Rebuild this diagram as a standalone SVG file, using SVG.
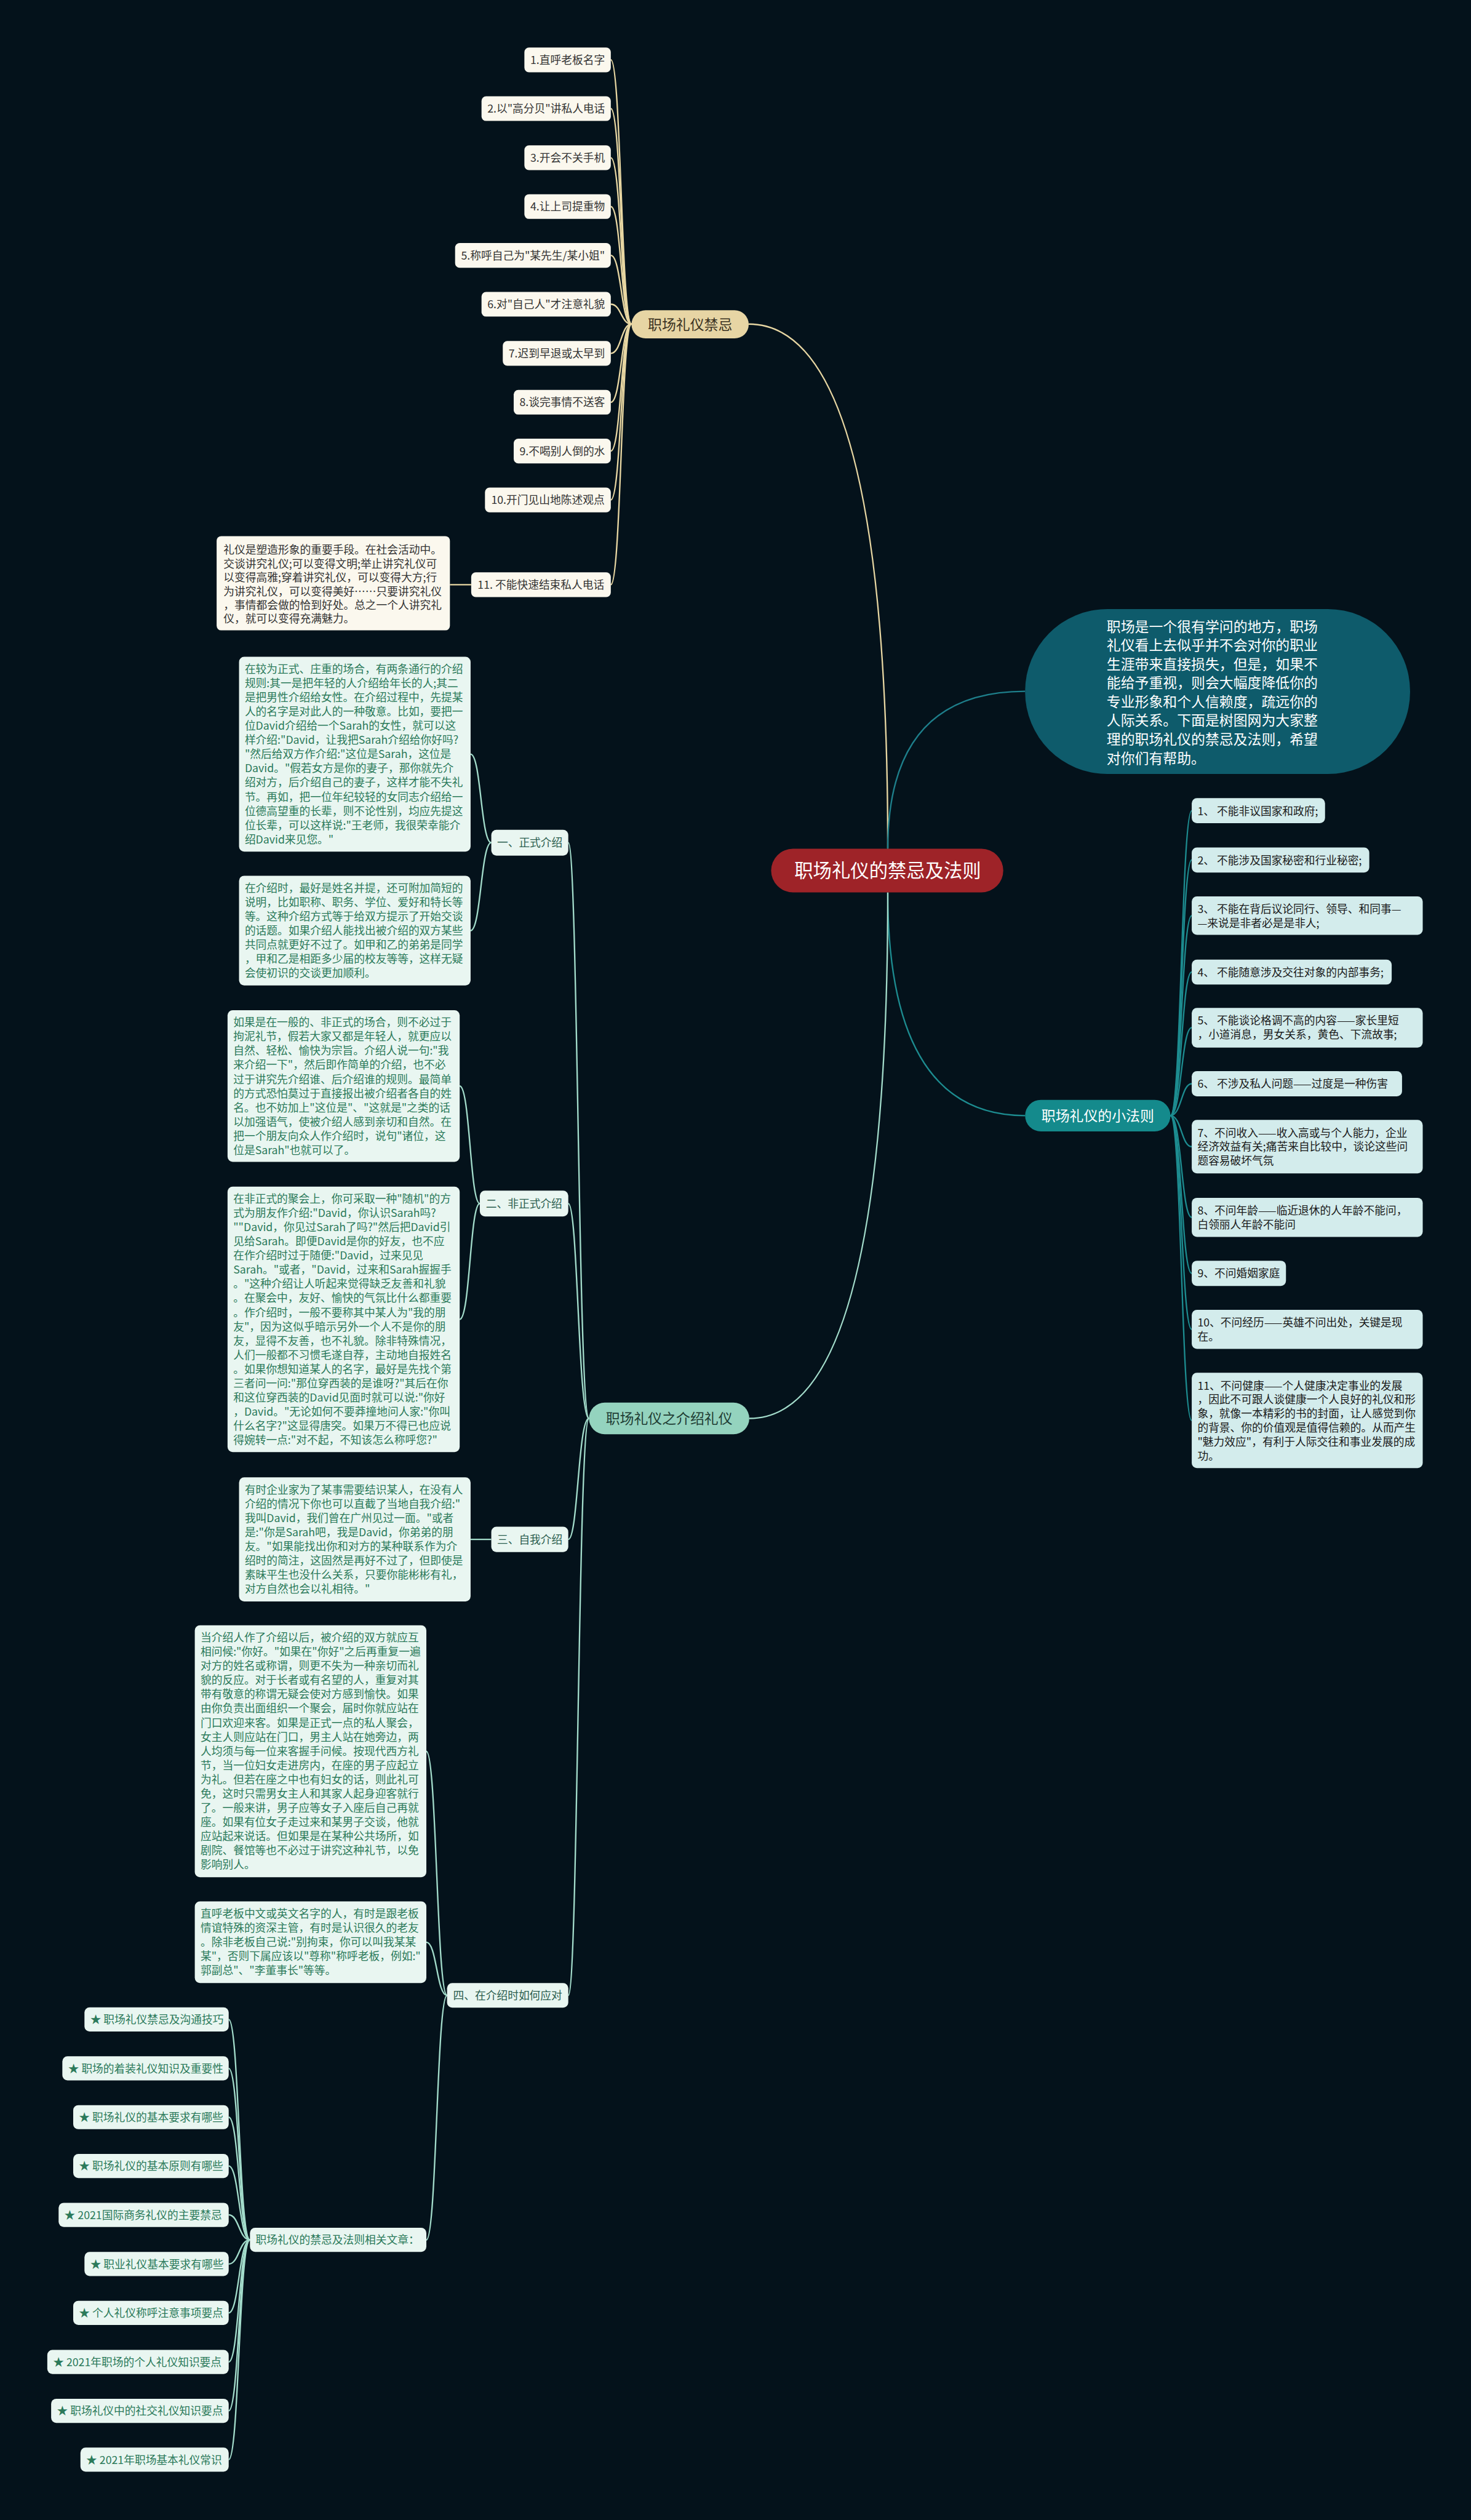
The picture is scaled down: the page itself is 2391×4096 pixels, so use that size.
<svg xmlns="http://www.w3.org/2000/svg" width="2391" height="4096" viewBox="0 0 2391 4096">
<style>
text{font-family:"Noto Sans CJK SC","Microsoft YaHei","Liberation Sans",sans-serif;}
.bg{fill:#04121b;}
.cg{fill:none;stroke:#e8d7a3;stroke-width:2.5;}
.ct{fill:none;stroke:#1d8c90;stroke-width:2.5;}
.cb{fill:none;stroke:#1e7f8b;stroke-width:2.5;}
.cm{fill:none;stroke:#a3dccb;stroke-width:2.5;}
.gi{fill:#fbf8ee;}
.gt{font-size:19px;fill:#333333;text-anchor:middle;}
.ti{fill:#d3ecec;}
.tt{font-size:19px;fill:#1a1a1a;}
.mb{fill:#e9f6f1;}
.mt{font-size:19px;fill:#2b7a5a;}
.ml{font-size:19px;fill:#2c5e4f;text-anchor:middle;}
</style>
<rect class="bg" x="0" y="0" width="2391" height="4096"/>
<g transform="scale(0.93398)">
<g id="connectors">
<path class="cg" d="M1545 1477 Q1545 564 1303 564"/>
<path class="cb" d="M1545 1477 Q1545 1203 1784 1203"/>
<path class="ct" d="M1545 1553 Q1545 1941.5 1784 1941.5"/>
<path class="cm" d="M1545 1553 Q1545 2468.5 1304 2468.5"/>
<path class="cg" d="M1063 104 C1081 104 1081 564 1099 564"/>
<path class="cg" d="M1063 189 C1081 189 1081 564 1099 564"/>
<path class="cg" d="M1063 274.5 C1081 274.5 1081 564 1099 564"/>
<path class="cg" d="M1063 359.5 C1081 359.5 1081 564 1099 564"/>
<path class="cg" d="M1063 444.5 C1081 444.5 1081 564 1099 564"/>
<path class="cg" d="M1063 529.5 C1081 529.5 1081 564 1099 564"/>
<path class="cg" d="M1063 615 C1081 615 1081 564 1099 564"/>
<path class="cg" d="M1063 700 C1081 700 1081 564 1099 564"/>
<path class="cg" d="M1063 785 C1081 785 1081 564 1099 564"/>
<path class="cg" d="M1063 870 C1081 870 1081 564 1099 564"/>
<path class="cg" d="M1063 1017.5 C1081 1017.5 1081 564 1099 564"/>
<path class="cg" d="M820 1017.5 L783 1017.5"/>
<path class="ct" d="M2037 1941.5 C2056 1941.5 2056 1411 2074 1411"/>
<path class="ct" d="M2037 1941.5 C2056 1941.5 2056 1496.5 2074 1496.5"/>
<path class="ct" d="M2037 1941.5 C2056 1941.5 2056 1593.5 2074 1593.5"/>
<path class="ct" d="M2037 1941.5 C2056 1941.5 2056 1691.5 2074 1691.5"/>
<path class="ct" d="M2037 1941.5 C2056 1941.5 2056 1788.5 2074 1788.5"/>
<path class="ct" d="M2037 1941.5 C2056 1941.5 2056 1886 2074 1886"/>
<path class="ct" d="M2037 1941.5 C2056 1941.5 2056 1995.5 2074 1995.5"/>
<path class="ct" d="M2037 1941.5 C2056 1941.5 2056 2118.5 2074 2118.5"/>
<path class="ct" d="M2037 1941.5 C2056 1941.5 2056 2216 2074 2216"/>
<path class="ct" d="M2037 1941.5 C2056 1941.5 2056 2313.5 2074 2313.5"/>
<path class="ct" d="M2037 1941.5 C2056 1941.5 2056 2472 2074 2472"/>
<path class="cm" d="M1025 2468.5 C1006 2468.5 1006 1466.5 989 1466.5"/>
<path class="cm" d="M1025 2468.5 C1006 2468.5 1006 2094.5 989 2094.5"/>
<path class="cm" d="M1025 2468.5 C1006 2468.5 1006 2679 989 2679"/>
<path class="cm" d="M1025 2468.5 C1006 2468.5 1006 3472.5 989 3472.5"/>
<path class="cm" d="M855 1466.5 C837 1466.5 837 1312.5 819 1312.5"/>
<path class="cm" d="M855 1466.5 C837 1466.5 837 1619.5 819 1619.5"/>
<path class="cm" d="M835 2094.5 C818 2094.5 818 1890 800 1890"/>
<path class="cm" d="M835 2094.5 C818 2094.5 818 2296 800 2296"/>
<path class="cm" d="M855 2679 L819 2679"/>
<path class="cm" d="M778 3472.5 C760 3472.5 760 3048 742 3048"/>
<path class="cm" d="M778 3472.5 C760 3472.5 760 3380 742 3380"/>
<path class="cm" d="M778 3472.5 C760 3472.5 760 3898 742 3898"/>
<path class="cm" d="M435 3898 C416 3898 416 3514.5 398 3514.5"/>
<path class="cm" d="M435 3898 C416 3898 416 3599.5 398 3599.5"/>
<path class="cm" d="M435 3898 C416 3898 416 3684.5 398 3684.5"/>
<path class="cm" d="M435 3898 C416 3898 416 3769.5 398 3769.5"/>
<path class="cm" d="M435 3898 C416 3898 416 3854.5 398 3854.5"/>
<path class="cm" d="M435 3898 C416 3898 416 3940 398 3940"/>
<path class="cm" d="M435 3898 C416 3898 416 4025 398 4025"/>
<path class="cm" d="M435 3898 C416 3898 416 4110.5 398 4110.5"/>
<path class="cm" d="M435 3898 C416 3898 416 4195.5 398 4195.5"/>
<path class="cm" d="M435 3898 C416 3898 416 4280.5 398 4280.5"/>
</g>

<g id="root">
<rect x="1342" y="1477" width="404" height="76" rx="38" fill="#9e2328"/>
<text x="1545" y="1527" font-size="32.5" fill="#ffffff" text-anchor="middle">职场礼仪的禁忌及法则</text>
</g>

<g id="intro">
<rect x="1784" y="1060" width="670" height="287" rx="143" fill="#0e5b6b"/>
<text font-size="24.5" fill="#ffffff">
<tspan x="1926" y="1099.3">职场是一个很有学问的地方，职场</tspan>
<tspan x="1926" dy="32.7">礼仪看上去似乎并不会对你的职业</tspan>
<tspan x="1926" dy="32.7">生涯带来直接损失，但是，如果不</tspan>
<tspan x="1926" dy="32.7">能给予重视，则会大幅度降低你的</tspan>
<tspan x="1926" dy="32.7">专业形象和个人信赖度，疏远你的</tspan>
<tspan x="1926" dy="32.7">人际关系。下面是树图网为大家整</tspan>
<tspan x="1926" dy="32.7">理的职场礼仪的禁忌及法则，希望</tspan>
<tspan x="1926" dy="32.7">对你们有帮助。</tspan>
</text>
</g>

<g id="taboo">
<rect x="1099" y="540" width="204" height="49" rx="24.5" fill="#e7d5a4"/>
<text x="1201" y="573.5" font-size="24.5" fill="#3a3222" text-anchor="middle">职场礼仪禁忌</text>
</g>
<g id="taboo-1"><rect class="gi" x="912.6" y="82.7" width="150.4" height="43" rx="8"/><text class="gt" x="987.8" y="111">1.直呼老板名字</text></g>
<g id="taboo-2"><rect class="gi" x="838" y="167.5" width="225" height="43" rx="8"/><text class="gt" x="950.5" y="196">2.以"高分贝"讲私人电话</text></g>
<g id="taboo-3"><rect class="gi" x="912.6" y="253" width="150.4" height="43" rx="8"/><text class="gt" x="987.8" y="281.5">3.开会不关手机</text></g>
<g id="taboo-4"><rect class="gi" x="912.6" y="338" width="150.4" height="43" rx="8"/><text class="gt" x="987.8" y="366.5">4.让上司提重物</text></g>
<g id="taboo-5"><rect class="gi" x="792" y="423" width="271" height="43" rx="8"/><text class="gt" x="927.5" y="451.5">5.称呼自己为"某先生/某小姐"</text></g>
<g id="taboo-6"><rect class="gi" x="838" y="508" width="225" height="43" rx="8"/><text class="gt" x="950.5" y="536.5">6.对"自己人"才注意礼貌</text></g>
<g id="taboo-7"><rect class="gi" x="875" y="593.5" width="188" height="43" rx="8"/><text class="gt" x="969" y="622">7.迟到早退或太早到</text></g>
<g id="taboo-8"><rect class="gi" x="894" y="678.5" width="169" height="43" rx="8"/><text class="gt" x="978.5" y="707">8.谈完事情不送客</text></g>
<g id="taboo-9"><rect class="gi" x="894" y="763.5" width="169" height="43" rx="8"/><text class="gt" x="978.5" y="792">9.不喝别人倒的水</text></g>
<g id="taboo-10"><rect class="gi" x="844" y="848.5" width="219" height="43" rx="8"/><text class="gt" x="953.5" y="877">10.开门见山地陈述观点</text></g>
<g id="taboo-11"><rect class="gi" x="820" y="996" width="243" height="43" rx="8"/><text class="gt" x="941.5" y="1024.5">11. 不能快速结束私人电话</text></g>
<g id="taboo-11-note">
<rect class="gi" x="377" y="933" width="406" height="164" rx="8"/>
<text font-size="19" fill="#333333">
<tspan x="389" y="963.9">礼仪是塑造形象的重要手段。在社会活动中。</tspan>
<tspan x="389" dy="24">交谈讲究礼仪;可以变得文明;举止讲究礼仪可</tspan>
<tspan x="389" dy="24">以变得高雅;穿着讲究礼仪，可以变得大方;行</tspan>
<tspan x="389" dy="24">为讲究礼仪，可以变得美好……只要讲究礼仪</tspan>
<tspan x="389" dy="24">，事情都会做的恰到好处。总之一个人讲究礼</tspan>
<tspan x="389" dy="24">仪，就可以变得充满魅力。</tspan>
</text>
</g>

<g id="rules">
<rect x="1784" y="1914" width="253" height="55" rx="27.5" fill="#148a8c"/>
<text x="1910.5" y="1950.8" font-size="24.5" fill="#ffffff" text-anchor="middle">职场礼仪的小法则</text>
</g>
<g id="rule-1"><rect class="ti" x="2074" y="1389" width="232" height="43.5" rx="9"/><text class="tt" x="2084" y="1418.2">1、 不能非议国家和政府;</text></g>
<g id="rule-2"><rect class="ti" x="2074" y="1475" width="309" height="43.5" rx="9"/><text class="tt" x="2084" y="1504.2">2、 不能涉及国家秘密和行业秘密;</text></g>
<g id="rule-3"><rect class="ti" x="2074" y="1560" width="402" height="67" rx="9"/><text class="tt"><tspan x="2084" y="1589.2">3、 不能在背后议论同行、领导、和同事—</tspan><tspan x="2084" dy="24.5">—来说是非者必是是非人;</tspan></text></g>
<g id="rule-4"><rect class="ti" x="2074" y="1670" width="348" height="43.5" rx="9"/><text class="tt" x="2084" y="1699.2">4、 不能随意涉及交往对象的内部事务;</text></g>
<g id="rule-5"><rect class="ti" x="2074" y="1754" width="402" height="69" rx="9"/><text class="tt"><tspan x="2084" y="1783.2">5、 不能谈论格调不高的内容——家长里短</tspan><tspan x="2084" dy="24.5">，小道消息，男女关系，黄色、下流故事;</tspan></text></g>
<g id="rule-6"><rect class="ti" x="2074" y="1864" width="366" height="44" rx="9"/><text class="tt" x="2084" y="1893.2">6、 不涉及私人问题——过度是一种伤害</text></g>
<g id="rule-7"><rect class="ti" x="2074" y="1949" width="402" height="93" rx="9"/><text class="tt"><tspan x="2084" y="1978.2">7、不问收入——收入高或与个人能力，企业</tspan><tspan x="2084" dy="24.5">经济效益有关;痛苦来自比较中，谈论这些问</tspan><tspan x="2084" dy="24.5">题容易破坏气氛</tspan></text></g>
<g id="rule-8"><rect class="ti" x="2074" y="2084.5" width="402" height="68" rx="9"/><text class="tt"><tspan x="2084" y="2113.7">8、不问年龄——临近退休的人年龄不能问，</tspan><tspan x="2084" dy="24.5">白领丽人年龄不能问</tspan></text></g>
<g id="rule-9"><rect class="ti" x="2074" y="2194" width="164" height="44" rx="9"/><text class="tt" x="2084" y="2223.2">9、不问婚姻家庭</text></g>
<g id="rule-10"><rect class="ti" x="2074" y="2279.5" width="402" height="68" rx="9"/><text class="tt"><tspan x="2084" y="2308.7">10、不问经历——英雄不问出处，关键是现</tspan><tspan x="2084" dy="24.5">在。</tspan></text></g>
<g id="rule-11"><rect class="ti" x="2074" y="2389" width="402" height="166" rx="9"/><text class="tt"><tspan x="2084" y="2418.2">11、不问健康——个人健康决定事业的发展</tspan><tspan x="2084" dy="24.5">，因此不可跟人谈健康一个人良好的礼仪和形</tspan><tspan x="2084" dy="24.5">象，就像一本精彩的书的封面，让人感觉到你</tspan><tspan x="2084" dy="24.5">的背景、你的价值观是值得信赖的。从而产生</tspan><tspan x="2084" dy="24.5">"魅力效应"，有利于人际交往和事业发展的成</tspan><tspan x="2084" dy="24.5">功。</tspan></text></g>

<g id="intro-etiquette">
<rect x="1025" y="2441" width="279" height="55" rx="27.5" fill="#94d3be"/>
<text x="1164.5" y="2477.8" font-size="24.5" fill="#1f3d34" text-anchor="middle">职场礼仪之介绍礼仪</text>
</g>
<g id="formal"><rect class="mb" x="855" y="1444" width="134" height="45" rx="9"/><text class="ml" x="922" y="1473.7">一、正式介绍</text></g>
<g id="formal-a">
<rect class="mb" x="416" y="1143" width="403" height="339" rx="9"/>
<text class="mt">
<tspan x="426" y="1171.2">在较为正式、庄重的场合，有两条通行的介绍</tspan>
<tspan x="426" dy="24.7">规则:其一是把年轻的人介绍给年长的人;其二</tspan>
<tspan x="426" dy="24.7">是把男性介绍给女性。在介绍过程中，先提某</tspan>
<tspan x="426" dy="24.7">人的名字是对此人的一种敬意。比如，要把一</tspan>
<tspan x="426" dy="24.7">位David介绍给一个Sarah的女性，就可以这</tspan>
<tspan x="426" dy="24.7">样介绍:"David，让我把Sarah介绍给你好吗?</tspan>
<tspan x="426" dy="24.7">"然后给双方作介绍:"这位是Sarah，这位是</tspan>
<tspan x="426" dy="24.7">David。"假若女方是你的妻子，那你就先介</tspan>
<tspan x="426" dy="24.7">绍对方，后介绍自己的妻子，这样才能不失礼</tspan>
<tspan x="426" dy="24.7">节。再如，把一位年纪较轻的女同志介绍给一</tspan>
<tspan x="426" dy="24.7">位德高望重的长辈，则不论性别，均应先提这</tspan>
<tspan x="426" dy="24.7">位长辈，可以这样说:"王老师，我很荣幸能介</tspan>
<tspan x="426" dy="24.7">绍David来见您。"</tspan>
</text>
</g>
<g id="formal-b">
<rect class="mb" x="416" y="1524" width="403" height="191" rx="9"/>
<text class="mt">
<tspan x="426" y="1552.2">在介绍时，最好是姓名并提，还可附加简短的</tspan>
<tspan x="426" dy="24.7">说明，比如职称、职务、学位、爱好和特长等</tspan>
<tspan x="426" dy="24.7">等。这种介绍方式等于给双方提示了开始交谈</tspan>
<tspan x="426" dy="24.7">的话题。如果介绍人能找出被介绍的双方某些</tspan>
<tspan x="426" dy="24.7">共同点就更好不过了。如甲和乙的弟弟是同学</tspan>
<tspan x="426" dy="24.7">，甲和乙是相距多少届的校友等等，这样无疑</tspan>
<tspan x="426" dy="24.7">会使初识的交谈更加顺利。</tspan>
</text>
</g>
<g id="informal"><rect class="mb" x="835" y="2072" width="154" height="45" rx="9"/><text class="ml" x="912" y="2101.7">二、非正式介绍</text></g>
<g id="informal-a">
<rect class="mb" x="396" y="1758" width="404" height="264" rx="9"/>
<text class="mt">
<tspan x="406" y="1786.2">如果是在一般的、非正式的场合，则不必过于</tspan>
<tspan x="406" dy="24.7">拘泥礼节，假若大家又都是年轻人，就更应以</tspan>
<tspan x="406" dy="24.7">自然、轻松、愉快为宗旨。介绍人说一句:"我</tspan>
<tspan x="406" dy="24.7">来介绍一下"，然后即作简单的介绍，也不必</tspan>
<tspan x="406" dy="24.7">过于讲究先介绍谁、后介绍谁的规则。最简单</tspan>
<tspan x="406" dy="24.7">的方式恐怕莫过于直接报出被介绍者各自的姓</tspan>
<tspan x="406" dy="24.7">名。也不妨加上"这位是"、"这就是"之类的话</tspan>
<tspan x="406" dy="24.7">以加强语气，使被介绍人感到亲切和自然。在</tspan>
<tspan x="406" dy="24.7">把一个朋友向众人作介绍时，说句"诸位，这</tspan>
<tspan x="406" dy="24.7">位是Sarah"也就可以了。</tspan>
</text>
</g>
<g id="informal-b">
<rect class="mb" x="396" y="2065" width="404" height="462" rx="9"/>
<text class="mt">
<tspan x="406" y="2093.2">在非正式的聚会上，你可采取一种"随机"的方</tspan>
<tspan x="406" dy="24.7">式为朋友作介绍:"David，你认识Sarah吗?</tspan>
<tspan x="406" dy="24.7">""David，你见过Sarah了吗?"然后把David引</tspan>
<tspan x="406" dy="24.7">见给Sarah。即便David是你的好友，也不应</tspan>
<tspan x="406" dy="24.7">在作介绍时过于随便:"David，过来见见</tspan>
<tspan x="406" dy="24.7">Sarah。"或者，"David，过来和Sarah握握手</tspan>
<tspan x="406" dy="24.7">。"这种介绍让人听起来觉得缺乏友善和礼貌</tspan>
<tspan x="406" dy="24.7">。在聚会中，友好、愉快的气氛比什么都重要</tspan>
<tspan x="406" dy="24.7">。作介绍时，一般不要称其中某人为"我的朋</tspan>
<tspan x="406" dy="24.7">友"，因为这似乎暗示另外一个人不是你的朋</tspan>
<tspan x="406" dy="24.7">友，显得不友善，也不礼貌。除非特殊情况，</tspan>
<tspan x="406" dy="24.7">人们一般都不习惯毛遂自荐，主动地自报姓名</tspan>
<tspan x="406" dy="24.7">。如果你想知道某人的名字，最好是先找个第</tspan>
<tspan x="406" dy="24.7">三者问一问:"那位穿西装的是谁呀?"其后在你</tspan>
<tspan x="406" dy="24.7">和这位穿西装的David见面时就可以说:"你好</tspan>
<tspan x="406" dy="24.7">，David。"无论如何不要莽撞地问人家:"你叫</tspan>
<tspan x="406" dy="24.7">什么名字?"这显得唐突。如果万不得已也应说</tspan>
<tspan x="406" dy="24.7">得婉转一点:"对不起，不知该怎么称呼您?"</tspan>
</text>
</g>
<g id="self"><rect class="mb" x="855" y="2657" width="134" height="44" rx="9"/><text class="ml" x="922" y="2686.2">三、自我介绍</text></g>
<g id="self-a">
<rect class="mb" x="416" y="2571" width="403" height="216" rx="9"/>
<text class="mt">
<tspan x="426" y="2599.2">有时企业家为了某事需要结识某人，在没有人</tspan>
<tspan x="426" dy="24.7">介绍的情况下你也可以直截了当地自我介绍:"</tspan>
<tspan x="426" dy="24.7">我叫David，我们曾在广州见过一面。"或者</tspan>
<tspan x="426" dy="24.7">是:"你是Sarah吧，我是David，你弟弟的朋</tspan>
<tspan x="426" dy="24.7">友。"如果能找出你和对方的某种联系作为介</tspan>
<tspan x="426" dy="24.7">绍时的简注，这固然是再好不过了，但即使是</tspan>
<tspan x="426" dy="24.7">素昧平生也没什么关系，只要你能彬彬有礼，</tspan>
<tspan x="426" dy="24.7">对方自然也会以礼相待。"</tspan>
</text>
</g>
<g id="respond"><rect class="mb" x="778" y="3451" width="211" height="43" rx="9"/><text class="ml" x="883.5" y="3479.7">四、在介绍时如何应对</text></g>
<g id="respond-a">
<rect class="mb" x="339" y="2828.5" width="403" height="438.5" rx="9"/>
<text class="mt">
<tspan x="349" y="2856.7">当介绍人作了介绍以后，被介绍的双方就应互</tspan>
<tspan x="349" dy="24.7">相问候:"你好。"如果在"你好"之后再重复一遍</tspan>
<tspan x="349" dy="24.7">对方的姓名或称谓，则更不失为一种亲切而礼</tspan>
<tspan x="349" dy="24.7">貌的反应。对于长者或有名望的人，重复对其</tspan>
<tspan x="349" dy="24.7">带有敬意的称谓无疑会使对方感到愉快。如果</tspan>
<tspan x="349" dy="24.7">由你负责出面组织一个聚会，届时你就应站在</tspan>
<tspan x="349" dy="24.7">门口欢迎来客。如果是正式一点的私人聚会，</tspan>
<tspan x="349" dy="24.7">女主人则应站在门口，男主人站在她旁边，两</tspan>
<tspan x="349" dy="24.7">人均须与每一位来客握手问候。按现代西方礼</tspan>
<tspan x="349" dy="24.7">节，当一位妇女走进房内，在座的男子应起立</tspan>
<tspan x="349" dy="24.7">为礼。但若在座之中也有妇女的话，则此礼可</tspan>
<tspan x="349" dy="24.7">免，这时只需男女主人和其家人起身迎客就行</tspan>
<tspan x="349" dy="24.7">了。一般来讲，男子应等女子入座后自己再就</tspan>
<tspan x="349" dy="24.7">座。如果有位女子走过来和某男子交谈，他就</tspan>
<tspan x="349" dy="24.7">应站起来说话。但如果是在某种公共场所，如</tspan>
<tspan x="349" dy="24.7">剧院、餐馆等也不必过于讲究这种礼节，以免</tspan>
<tspan x="349" dy="24.7">影响别人。</tspan>
</text>
</g>
<g id="respond-b">
<rect class="mb" x="339" y="3309" width="403" height="142" rx="9"/>
<text class="mt">
<tspan x="349" y="3337.2">直呼老板中文或英文名字的人，有时是跟老板</tspan>
<tspan x="349" dy="24.7">情谊特殊的资深主管，有时是认识很久的老友</tspan>
<tspan x="349" dy="24.7">。除非老板自己说:"别拘束，你可以叫我某某</tspan>
<tspan x="349" dy="24.7">某"，否则下属应该以"尊称"称呼老板，例如:"</tspan>
<tspan x="349" dy="24.7">郭副总"、"李董事长"等等。</tspan>
</text>
</g>
<g id="related"><rect class="mb" x="435" y="3877" width="307" height="42" rx="9"/><text class="mt" x="445" y="3905.2">职场礼仪的禁忌及法则相关文章：</text></g>
<g id="art-1"><rect class="mb" x="147" y="3493.5" width="251" height="42" rx="9"/><text class="mt" x="157" y="3521.7">★ 职场礼仪禁忌及沟通技巧</text></g>
<g id="art-2"><rect class="mb" x="108.5" y="3578.5" width="289.5" height="42" rx="9"/><text class="mt" x="118.5" y="3606.7">★ 职场的着装礼仪知识及重要性</text></g>
<g id="art-3"><rect class="mb" x="127.4" y="3663.5" width="270.6" height="42" rx="9"/><text class="mt" x="137.4" y="3691.7">★ 职场礼仪的基本要求有哪些</text></g>
<g id="art-4"><rect class="mb" x="127.4" y="3748.5" width="270.6" height="42" rx="9"/><text class="mt" x="137.4" y="3776.7">★ 职场礼仪的基本原则有哪些</text></g>
<g id="art-5"><rect class="mb" x="102" y="3833.5" width="296" height="42" rx="9"/><text class="mt" x="112" y="3861.7">★ 2021国际商务礼仪的主要禁忌</text></g>
<g id="art-6"><rect class="mb" x="147" y="3919" width="251" height="42" rx="9"/><text class="mt" x="157" y="3947.2">★ 职业礼仪基本要求有哪些</text></g>
<g id="art-7"><rect class="mb" x="127.4" y="4004" width="270.6" height="42" rx="9"/><text class="mt" x="137.4" y="4032.2">★ 个人礼仪称呼注意事项要点</text></g>
<g id="art-8"><rect class="mb" x="82.3" y="4089.5" width="315.7" height="42" rx="9"/><text class="mt" x="92.3" y="4117.7">★ 2021年职场的个人礼仪知识要点</text></g>
<g id="art-9"><rect class="mb" x="89" y="4174.5" width="309" height="42" rx="9"/><text class="mt" x="99" y="4202.7">★ 职场礼仪中的社交礼仪知识要点</text></g>
<g id="art-10"><rect class="mb" x="140" y="4259.5" width="258" height="42" rx="9"/><text class="mt" x="150" y="4287.7">★ 2021年职场基本礼仪常识</text></g>
</g>
</svg>
